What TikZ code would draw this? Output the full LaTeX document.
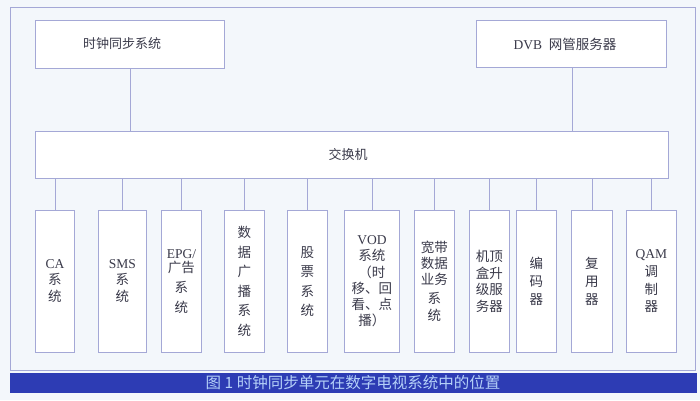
\documentclass[tikz,border=0pt]{standalone}
\usepackage{fontspec}
\setmainfont{Liberation Serif}
\newfontfamily\cjk{Noto Sans CJK SC}
\definecolor{bgc}{HTML}{F3F7FB}
\definecolor{linec}{HTML}{A4A8D6}
\definecolor{capbar}{HTML}{2D3CB4}
\definecolor{captxt}{HTML}{B4D0F8}
\definecolor{txtc}{HTML}{3A3A4A}
\begin{document}
\begin{tikzpicture}[x=1pt,y=-1pt,
  box/.style={draw=linec, line width=0.8pt, fill=white, inner sep=0pt, text=txtc},
  lab/.style={font=\fontsize{13.5}{17}\selectfont, align=center, text=txtc},
  conn/.style={draw=linec, line width=0.8pt}]
\useasboundingbox (0,0) rectangle (700,400);
\fill[bgc] (0,0) rectangle (700,400);
\draw[linec, line width=0.8pt] (10,7) rectangle (695,370);
\fill[capbar] (10,373) rectangle (697,393);
\node[font=\cjk\fontsize{15.5}{17}\selectfont, text=captxt] (cap) at (353,383) {图 1 时钟同步单元在数字电视系统中的位置};
% top boxes
\node[box, minimum width=189pt, minimum height=48pt, anchor=north west] (clk) at (35,20) {};
\node[lab, font=\cjk\fontsize{13}{15}\selectfont] at (122,44) {时钟同步系统};
\node[box, minimum width=190pt, minimum height=47pt, anchor=north west] (dvb) at (476,20) {};
\node[lab, font=\fontsize{13.5}{15}\selectfont] at (565,44) {DVB\ \ {\cjk 网管服务器}};
% switch
\node[box, minimum width=633pt, minimum height=47pt, anchor=north west] (sw) at (35,131) {};
\node[lab, font=\cjk\fontsize{13}{15}\selectfont] at (348,155) {交换机};
\draw[conn] (130,68) coordinate (c1) -- (c1 |- sw.north);
\draw[conn] (572,67) coordinate (c2) -- (c2 |- sw.north);
% bottom boxes
\foreach \n/\xl/\xr in {b1/35/74, b2/98/146, b3/161/201, b4/224/264, b5/287/327, b6/344/399, b7/414/454, b8/469/509, b9/516/556, b10/571/612, b11/626/676}{
  \node[box, minimum height=142pt, minimum width={\xr-\xl}, anchor=north west] (\n) at (\xl,210) {};
  \draw[conn] (\n.north) -- (\n.north |- sw.south);
}
\node[lab] at (b1) {CA\\[-1pt]{\cjk 系}\\{\cjk 统}};
\node[lab] at (b2) {SMS\\[-1pt]{\cjk 系}\\{\cjk 统}};
\node[lab] at (b3) {EPG/\\[-3pt]{\cjk 广告}\\[3pt]{\cjk 系}\\[3pt]{\cjk 统}};
\node[lab, font=\cjk\fontsize{13.5}{19.5}\selectfont] at (b4) {数\\据\\广\\播\\系\\统};
\node[lab, font=\cjk\fontsize{13.5}{19.5}\selectfont] at (b5) {股\\票\\系\\统};
\node[lab, font=\fontsize{13.5}{16.3}\selectfont] at (b6) {VOD\\{\cjk 系统}\\{\cjk （时}\\{\cjk 移、回}\\{\cjk 看、点}\\{\cjk 播）}};
\node[lab, font=\cjk\fontsize{13.5}{17}\selectfont] at (b7) {宽带\\[-1pt]数据\\[-1pt]业务\\[2pt]系\\统};
\node[lab, font=\cjk\fontsize{13.5}{16.7}\selectfont] at (b8) {机顶\\盒升\\级服\\务器};
\node[lab, font=\cjk\fontsize{13.5}{18}\selectfont] at (b9) {编\\码\\器};
\node[lab, font=\cjk\fontsize{13.5}{18}\selectfont] at (b10) {复\\用\\器};
\node[lab, font=\fontsize{13.5}{17.7}\selectfont] at (b11) {QAM\\{\cjk 调}\\{\cjk 制}\\{\cjk 器}};
\end{tikzpicture}
\end{document}
